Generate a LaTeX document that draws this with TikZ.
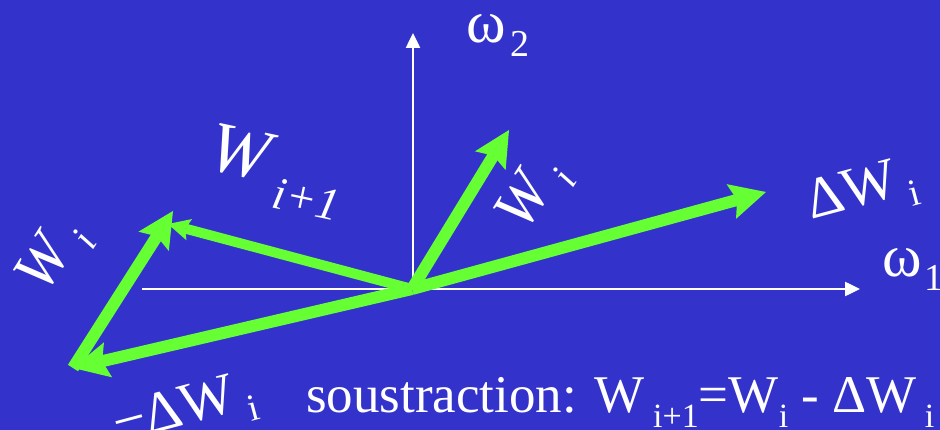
\documentclass[tikz,border=0pt]{standalone}
\usepackage{fontspec}
\setmainfont{Liberation Serif}
\usetikzlibrary{arrows.meta}
\definecolor{bgblue}{RGB}{51,51,204}
\definecolor{vgreen}{RGB}{102,255,51}
\newcommand{\sbs}[3][14pt]{\raisebox{-#1}{\fontsize{#2}{#2}\selectfont #3}}
\begin{document}
\begin{tikzpicture}[x=1pt,y=-1pt,
  axis/.style={draw=white, line width=2.5pt, -{Triangle[length=15pt,width=14pt]}},
  vec/.style={draw=vgreen, line width=12pt, -{Stealth[length=36pt,width=36pt,inset=6pt,line width=0pt]}},
  thinvec/.style={draw=vgreen, line width=10pt, -{Stealth[length=22pt,width=22pt,inset=4pt,line width=0pt]}},
  lbl/.style={text=white, inner sep=0pt},
]
\fill[bgblue] (0,0) rectangle (940,430);
\useasboundingbox (0,0) rectangle (940,430);
% coordinates
\coordinate (O) at (412,289);
\coordinate (xs) at (142,289);
\coordinate (xe) at (860,289);
\coordinate (ys) at (413,290);
\coordinate (ye) at (413,33);
\coordinate (dW) at (766,192);
\coordinate (mdW) at (73,368);
\coordinate (Wi) at (509,130);
\coordinate (Wl) at (173,211);
\coordinate (Wn) at (168,224);
% axes
\draw[axis] (xs) -- (xe);
\draw[axis] (ys) -- (ye);
% vectors
\draw[thinvec] (O) -- (Wn);
\draw[vec] (O) -- (dW);
\draw[vec] (O) -- (mdW);
\draw[vec] (O) -- (Wi);
\draw[vec] (mdW) -- (Wl);
% labels
\node[lbl, anchor=base west] (w2) at (466,43) {\fontsize{60}{60}\selectfont ω\kern5pt\sbs[14pt]{38}{2}};
\node[lbl, anchor=base west] (w1) at (882,277) {\fontsize{60}{60}\selectfont ω\kern3pt\sbs[14pt]{38}{1}};
\node[lbl, rotate=58] (lWi) at (55,258) {\fontsize{62}{62}\selectfont\itshape W\sbs[17pt]{40}{\ i}};
\node[lbl, rotate=58] (rWi) at (535,196) {\fontsize{62}{62}\selectfont\itshape W\sbs[17pt]{40}{\ i}};
\node[lbl, rotate=-12] (Wn1) at (276,172) {\fontsize{72}{72}\selectfont\itshape W\sbs[24pt]{46}{\ i+1}};
\node[lbl, rotate=15] (ldW) at (862,193) {\fontsize{58}{58}\selectfont ΔW\sbs[14pt]{38}{\ i}};
\node[lbl, rotate=15] (lmdW) at (185,412) {\fontsize{58}{58}\selectfont −ΔW\sbs[14pt]{38}{\ i}};
\node[lbl, anchor=base west] (eq) at (306,412) {\fontsize{53}{53}\selectfont soustraction: W\sbs[15pt]{34}{ i+1}=W\sbs[15pt]{34}{i} - ΔW\sbs[15pt]{34}{ i}};
\end{tikzpicture}
\end{document}
